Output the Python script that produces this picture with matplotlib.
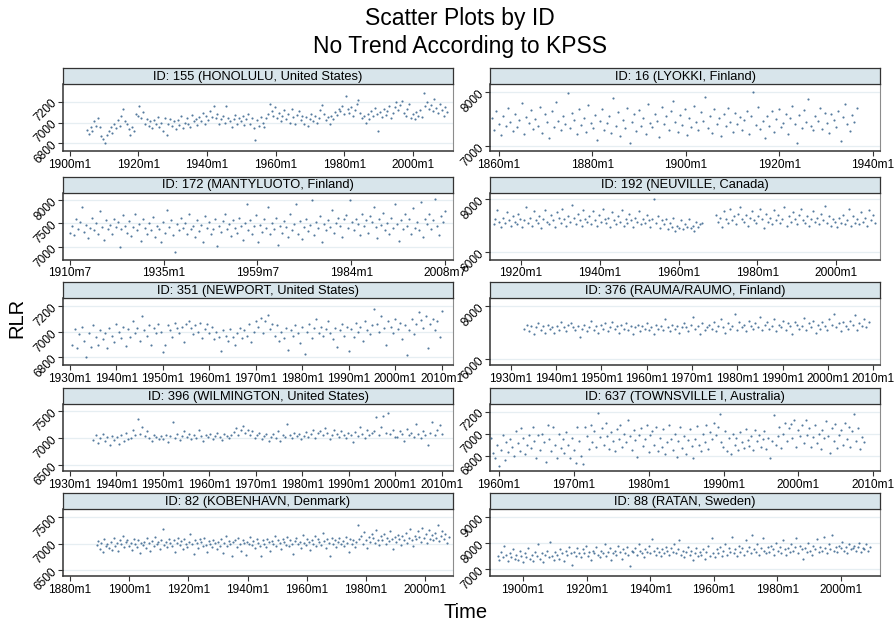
import numpy as np
import matplotlib
matplotlib.use("Agg")
import matplotlib.pyplot as plt

plt.rcParams['font.family'] = ['Liberation Sans', 'DejaVu Sans']

# monthly RLR sea level readings (sampled), one list per station
rlr_155 = [6930, 6890, 6960, 6920, 7010, 6970, 7040, 6960, 6870, 6840,
           6800, 6880, 6920, 6960, 6900, 6990, 6950, 7020, 6970, 7060,
           7130, 7010, 6990, 6940, 6880, 6960, 6920, 7080, 7060, 7160,
           7040, 7100, 6990, 7030, 6970, 7010, 6950, 7020, 6990, 7050,
           6960, 7000, 6920, 7040, 6880, 6990, 7030, 6970, 7010, 6940,
           7020, 6980, 7060, 6950, 7000, 7040, 6990, 6960, 7070, 7010,
           7030, 6980, 7050, 7010, 7090, 6990, 7060, 7020, 7110, 7050,
           7160, 7040, 7080, 6990, 7030, 7060, 7000, 7160, 7040, 7010,
           6960, 7030, 7070, 6990, 7040, 7010, 7060, 6980, 7030, 7080,
           6990, 7040, 6950, 6830, 7020, 6970, 7050, 7000, 6960, 7040,
           7080, 7180, 7110, 7060, 7150, 7040, 7090, 7010, 7060, 7120,
           7030, 7080, 7000, 7130, 7050, 6990, 7070, 7110, 7020, 7060,
           6990, 7050, 6970, 7030, 7080, 7010, 7060, 7000, 7040, 7120,
           7170, 7080, 7020, 7050, 6990, 7060, 7030, 7100, 7070, 7130,
           7110, 7160, 7080, 7250, 7130, 7090, 7150, 7060, 7120, 7180,
           7220, 7090, 7040, 7060, 7000, 7080, 7030, 7110, 7060, 7140,
           7080, 6920, 7100, 7050, 7130, 7070, 7110, 7160, 7040, 7090,
           7150, 7200, 7120, 7170, 7210, 7090, 7060, 7130, 7180, 7040,
           7080, 7030, 7100, 7060, 7120, 7050, 7280, 7160, 7200, 7130,
           7170, 7110, 7230, 7140, 7090, 7180, 7120, 7060, 7150, 7100]

rlr_16 = [7520, 7300, 7650, 7410, 7200, 7560, 7380, 7700, 7450, 7280,
          7600, 7350, 7480, 7790, 7230, 7540, 7420, 7660, 7310, 7500,
          7380, 7720, 7250, 7590, 7450, 7150, 7640, 7360, 7820, 7470,
          7290, 7550, 7400, 7970, 7330, 7610, 7480, 7220, 7680, 7390,
          7510, 7270, 7750, 7430, 7340, 7580, 7120, 7460, 7690, 7300,
          7420, 7560, 7250, 7880, 7370, 7620, 7190, 7490, 7330, 7710,
          7060, 7450, 7590, 7280, 7660, 7380, 7510, 7230, 7780, 7420,
          7350, 7600, 7470, 7170, 7720, 7400, 7550, 7290, 7640, 7830,
          7450, 7260, 7580, 7390, 7680, 7210, 7510, 7360, 7740, 7440,
          7300, 7620, 7470, 7900, 7330, 7560, 7250, 7680, 7410, 7520,
          7180, 7590, 7370, 7700, 7450, 7260, 7610, 7400, 7530, 7300,
          7480, 7650, 7220, 7560, 7990, 7390, 7720, 7310, 7470, 7150,
          7560, 7380, 7640, 7270, 7500, 7690, 7350, 7430, 7600, 7230,
          7520, 7740, 7410, 7060, 7580, 7330, 7660, 7450, 7870, 7380,
          7290, 7550, 7470, 7700, 7320, 7610, 7420, 7250, 7590, 7480,
          7360, 7640, 7100, 7530, 7770, 7410, 7280, 7580, 7450, 7700]

rlr_172 = [7300, 7450, 7250, 7580, 7380, 7520, 7850, 7320, 7460, 7190,
           7400, 7620, 7350, 7500, 7280, 7750, 7420, 7150, 7560, 7380,
           7470, 7260, 7600, 7410, 7520, 7000, 7380, 7680, 7450, 7300,
           7550, 7230, 7420, 7700, 7360, 7490, 7120, 7580, 7400, 7270,
           7510, 7350, 7640, 7200, 7440, 7380, 7090, 7520, 7300, 7780,
           7420, 7560, 7250, 6880, 7480, 7350, 7620, 7400, 7510, 7280,
           7700, 7380, 7450, 7200, 7560, 7330, 7470, 7100, 7650, 7400,
           7520, 7270, 7380, 7600, 7020, 7450, 7310, 7540, 7700, 7380,
           7480, 7220, 7560, 7400, 7300, 7620, 7450, 7150, 7500, 7900,
           7350, 7560, 7280, 7440, 7680, 7100, 7470, 7320, 7580, 7400,
           7850, 7260, 7500, 7380, 7620, 7040, 7450, 7300, 7540, 7420,
           7200, 7700, 7350, 7480, 7900, 7280, 7550, 7160, 7420, 7600,
           7330, 7470, 8000, 7250, 7520, 7400, 7650, 7100, 7480, 7350,
           7560, 7420, 7780, 7300, 7500, 7620, 7450, 7200, 7580, 7680,
           7400, 8000, 7520, 7350, 7600, 7480, 7250, 7700, 7450, 7560,
           7300, 7650, 7520, 7850, 7420, 7180, 7580, 7460, 7720, 7350,
           7500, 7260, 7620, 7400, 7900, 7480, 7130, 7560, 7380, 7700,
           7450, 7580, 7280, 7820, 7400, 7520, 7350, 7950, 7200, 7600,
           7480, 7700, 7380, 7560, 8020, 7450, 7250, 7650, 7520, 7750]

rlr_192a = [7050, 7250, 7600, 7150, 6950, 7300, 7100, 7500, 7200, 7000,
            7350, 7150, 7050, 7450, 7250, 6950, 7200, 7700, 7100, 7300,
            7000, 7550, 7200, 7100, 7350, 6900, 7250, 7600, 7150, 7050,
            7400, 7200, 6950, 7500, 7300, 7100, 7650, 7250, 7000, 7350,
            7150, 7800, 7300, 7050, 7450, 7200, 7000, 7600, 7250, 7150,
            7350, 7050, 7550, 7200, 7000, 7400, 7150, 7650, 7250, 7100,
            7300, 6950, 7500, 7200, 7050, 7350, 7150, 7600, 7000, 7250,
            7100, 7450, 7200, 6950, 7300, 7150, 7550, 7050, 7250, 7100,
            7400, 7200, 6950, 7250, 8000, 7100, 7350, 6900, 7200, 7050,
            7250, 6850, 7100, 6950, 7300, 6800, 7000, 6900, 7200, 6850,
            7050, 6950, 7250, 6900, 7000, 6800, 7150, 6950, 7050, 7100]
rlr_192b = [7400, 7150, 7300, 6950, 7550, 7250, 7100, 7650, 7200, 7350,
            7050, 7450, 7700, 7250, 7150, 7400, 7000, 7300, 7550, 7200,
            7100, 7350, 7650, 7250, 6900, 7450, 7150, 7300, 7050, 7600,
            7200, 7400, 7100, 7250, 7700, 7000, 7350, 7150, 7500, 7250,
            7050, 7400, 7650, 7200, 7100, 7350, 7000, 7250, 7550, 7150,
            7300, 7050, 7450, 7200, 7750, 7100, 7350, 7000, 7250, 7150,
            6950, 7300, 7100, 7400, 7050, 7200, 7650, 7000, 7350, 7100,
            7250, 7050, 7500, 7150, 7300, 7000, 7600, 7200, 7400, 7100]

rlr_351 = [6900, 7020, 6870, 6980, 7040, 6930, 6800, 6990, 6880, 7050,
           6960, 6900, 7010, 6940, 6990, 6870, 7030, 6970, 6920, 7060,
           7000, 6950, 7040, 6890, 7020, 6960, 7080, 6990, 7030, 6930,
           7120, 7010, 6970, 7050, 6900, 7030, 6990, 7060, 7000, 6840,
           6900, 7050, 7010, 6960, 7070, 7030, 6990, 7040, 6920, 7060,
           7080, 7030, 6980, 7050, 7000, 7070, 6950, 7020, 7060, 6990,
           7040, 6940, 7000, 6960, 6850, 7010, 6970, 6930, 7020, 6960,
           6900, 6990, 7030, 6950, 7010, 6970, 7060, 6920, 7000, 7080,
           7040, 7110, 6990, 7080, 7130, 7020, 7060, 6970, 7050, 6930,
           7000, 6950, 7030, 6860, 7010, 6970, 7050, 6990, 6910, 7040,
           6830, 7000, 7060, 6950, 7030, 7100, 6990, 7040, 6970, 7020,
           7080, 6990, 6940, 7030, 6880, 7010, 7060, 6970, 7040, 6850,
           7020, 6960, 7070, 7000, 7040, 6930, 7080, 7010, 6980, 7050,
           7180, 7060, 7000, 7120, 7030, 6900, 7080, 7040, 6990, 7100,
           7020, 7070, 6940, 7050, 6820, 7010, 7100, 6980, 7060, 7150,
           7090, 7030, 7120, 6870, 7060, 7100, 7010, 7080, 6960, 7160]

rlr_376 = [7150, 7300, 7050, 7250, 6950, 7200, 7350, 7100, 7250, 7000,
           7300, 7150, 7200, 6980, 7250, 7100, 7400, 7200, 7050, 7300,
           7350, 7200, 7100, 7250, 6850, 7150, 7300, 7050, 7200, 7450,
           7100, 7250, 7000, 7300, 7150, 7350, 7050, 7200, 7400, 7150,
           7250, 7000, 7300, 7150, 7350, 7100, 7250, 6950, 7200, 7300,
           7050, 7250, 7150, 7350, 7100, 7200, 6950, 7300, 7150, 7250,
           7100, 7500, 7200, 7050, 7300, 7150, 7250, 7000, 7200, 7350,
           7200, 7050, 7300, 7600, 7150, 7250, 6950, 7350, 7100, 7200,
           7300, 7150, 7400, 7050, 7250, 7500, 7200, 7000, 7350, 7150,
           7250, 7700, 7100, 7400, 7200, 7300, 7050, 7450, 7250, 7150,
           7350, 7200, 7600, 7100, 7300, 7400, 7150, 7250, 7500, 7050,
           7300, 7200, 7450, 7100, 7350, 7250, 6950, 7400, 7300, 7150,
           7250, 7550, 7100, 7350, 7200, 7450, 7000, 7300, 7150, 7400,
           7250, 7100, 7500, 7300, 7700, 7200, 7350, 7050, 7400, 7250,
           7150, 7450, 7300, 7650, 7100, 7350, 7250, 7500, 7200, 7400]

rlr_396 = [6960, 7050, 6900, 7000, 7080, 6950, 7020, 6880, 7040, 6970,
           7010, 6890, 7060, 6940, 7100, 6990, 7000, 7150, 7050, 7350,
           7080, 7200, 7030, 7120, 7000, 6950, 7060, 7010, 6980, 7040,
           6990, 7050, 6920, 7030, 7300, 7000, 7080, 6970, 7040, 7120,
           7020, 7070, 6990, 7050, 7000, 7150, 7030, 6950, 7060, 7010,
           7080, 6980, 7040, 7100, 7020, 6960, 7070, 7030, 7000, 7050,
           7110, 7180, 7060, 7140, 7220, 7090, 7150, 7050, 7120, 7000,
           7060, 7100, 6990, 7040, 7080, 6950, 7020, 7070, 7000, 7130,
           6940, 7050, 7010, 7260, 7060, 7000, 7100, 7030, 7080, 6980,
           7040, 7110, 7020, 7070, 7150, 7000, 7090, 7130, 7060, 7180,
           7100, 6990, 7050, 7140, 7080, 7020, 7120, 7060, 7000, 7090,
           7060, 6920, 7110, 7040, 7200, 7080, 7000, 7150, 7050, 7100,
           7130, 7380, 7050, 7200, 7400, 7100, 7450, 7080, 7150, 7010,
           7020, 7120, 7070, 6940, 7160, 7050, 7100, 7020, 7250, 7080,
           7000, 7130, 7060, 6880, 7100, 7300, 7050, 7150, 7240, 7080]

rlr_637 = [6960, 6820, 6780, 6900, 6700, 6850, 6990, 6760, 6920, 6830,
           6950, 6880, 6800, 7020, 6910, 6840, 7050, 6960, 6810, 6900,
           6990, 6870, 7060, 6930, 6780, 6990, 6850, 7000, 6920, 6740,
           7080, 6950, 6840, 7060, 6900, 6780, 7000, 6870, 6950, 6820,
           7010, 6900, 6780, 6960, 6850, 6730, 7060, 6930, 6800, 6720,
           7060, 6980, 6860, 7080, 6920, 7020, 6880, 7190, 6970, 7050,
           6900, 7100, 6980, 6860, 7010, 6930, 6840, 7040, 6950, 7080,
           6880, 7000, 6920, 7120, 6980, 6850, 7030, 6940, 6790, 6990,
           7050, 6890, 6950, 7080, 6830, 6990, 7020, 6900, 7060, 6840,
           6960, 6880, 7040, 6810, 6920, 7080, 6950, 6850, 7000, 6790,
           6930, 7060, 6870, 6980, 6810, 6940, 7040, 6890, 6780, 6950,
           7070, 6900, 6840, 7000, 6920, 7080, 6860, 7010, 6950, 7100,
           6990, 7060, 7180, 6920, 6880, 7020, 6840, 6960, 6810, 7000,
           6900, 6960, 6850, 7010, 6920, 6870, 7040, 6940, 6890, 6980,
           6850, 7030, 6930, 6990, 6880, 6950, 7020, 6860, 6960, 6780,
           6930, 7170, 6900, 6980, 7060, 6870, 7000, 7100, 6930, 7050,
           7090, 6960, 7120, 6880, 7030, 6980, 7080, 6910, 7120, 6990,
           7050, 6880, 6970, 7080, 6910, 7000, 6860, 7030, 6960, 7110,
           6980, 6820, 7050, 6930, 7090, 6870, 6990, 7030, 6900, 7100,
           6950, 7060, 6880, 7020, 7180, 6930, 7050, 6860, 6970, 6920]

rlr_82 = [6980, 7050, 6900, 7020, 6850, 7080, 6960, 7000, 6920, 7040,
          6880, 7100, 6950, 7010, 6870, 7060, 6990, 7150, 6930, 7030,
          7070, 6960, 7020, 6880, 7090, 7000, 6940, 7060, 6820, 7020,
          6980, 7040, 6920, 7100, 7010, 6870, 7050, 6960, 7130, 6990,
          7030, 6900, 7070, 7280, 6980, 7040, 6930, 7090, 7010, 6950,
          7060, 6840, 7020, 7110, 6970, 7050, 6900, 7080, 7000, 6940,
          7040, 7180, 6990, 6800, 7060, 7010, 6920, 7080, 7030, 6960,
          7100, 6980, 6850, 7050, 7000, 6930, 7070, 7020, 6890, 7040,
          6960, 7080, 6820, 7010, 7140, 6950, 7050, 6990, 6760, 7030,
          7070, 6940, 7100, 7000, 6870, 7060, 7010, 6780, 7040, 6990,
          7120, 6980, 7050, 6910, 7080, 7020, 6960, 6760, 7060, 7000,
          6940, 7090, 7030, 6870, 7050, 7000, 7150, 6960, 7070, 7010,
          6900, 7080, 7040, 6980, 7120, 6950, 7060, 7000, 6800, 7050,
          7100, 6990, 7040, 6920, 7160, 7020, 6970, 7080, 7030, 6880,
          7060, 7000, 7140, 6950, 7090, 7030, 6980, 7200, 7050, 6910,
          7080, 7020, 6760, 7100, 6990, 7060, 6930, 7040, 7110, 7000,
          7050, 6960, 7120, 7020, 6850, 7080, 7000, 7060, 6940, 7030,
          7350, 7080, 7150, 7000, 7220, 7060, 6920, 7130, 7040, 7180,
          7100, 7020, 7250, 7070, 6980, 7140, 7060, 7190, 7000, 7110,
          7050, 7230, 7080, 6900, 7120, 7040, 7170, 7090, 6980, 7140,
          7060, 7200, 7010, 7110, 7280, 7070, 6950, 7150, 7090, 7230,
          7120, 7040, 7300, 7100, 7180, 7020, 7250, 7080, 7160, 7060,
          7200, 7110, 7350, 7050, 7150, 7240, 7090, 7180, 7010, 7130]

rlr_88 = [7500, 7350, 7650, 7450, 7900, 7550, 7300, 7600, 7450, 7750,
          7400, 7550, 7350, 7700, 7500, 7250, 7600, 7450, 7800, 7400,
          7550, 7300, 7650, 7500, 7950, 7400, 7600, 7250, 7550, 7700,
          7450, 8050, 7500, 7350, 7650, 7550, 7400, 7750, 7600, 7300,
          7700, 7550, 7850, 7600, 7150, 7650, 7500, 7800, 7600, 7450,
          7750, 7600, 7900, 7500, 7650, 7350, 7700, 7600, 7850, 7550,
          7450, 7700, 7600, 7950, 7500, 7650, 7800, 7350, 7600, 7700,
          7550, 7900, 7650, 7400, 7750, 7600, 7850, 7550, 7100, 7700,
          7650, 7800, 7550, 7950, 7700, 7600, 7450, 7750, 7650, 7900,
          7600, 8150, 7700, 7550, 7800, 7650, 7500, 7750, 7600, 7850,
          7700, 7550, 7800, 7650, 7950, 7600, 7750, 8100, 7550, 7700,
          7450, 7650, 7850, 7550, 7700, 7350, 7600, 7800, 7500, 7650,
          7550, 7750, 7400, 7650, 7900, 7500, 8200, 7600, 7450, 7750,
          7600, 7850, 7500, 7700, 7950, 7550, 7800, 7650, 8250, 7600,
          7750, 7500, 7900, 7650, 7800, 7550, 8100, 7700, 7850, 7600,
          8300, 7750, 7650, 7950, 7550, 7800, 8200, 7700, 7600, 7850,
          7650, 7900, 7750, 7550, 8000, 7700, 7850, 7600, 8100, 7750,
          7550, 7800, 7650, 7950, 7700, 7850, 8200, 7600, 7900, 7750,
          7400, 7800, 7650, 8000, 7700, 7550, 7900, 7750, 8150, 7650,
          7850, 7700, 8250, 7800, 7600, 7950, 7750, 8300, 7700, 7850,
          7650, 7900, 7800, 8050, 7700, 7850, 7600, 7950, 7750, 7800,
          7900, 7700, 7850, 8000, 7650, 7800, 7750, 7950, 7700, 7850]

# (title, [(first month, last month, values)], x tick labels, y ticks)
panels = [
    ("ID: 155 (HONOLULU, United States)", [(1905.0, 2010.0, rlr_155)],
     ["1900m1", "1920m1", "1940m1", "1960m1", "1980m1", "2000m1"], [6800, 7000, 7200]),
    ("ID: 16 (LYOKKI, Finland)", [(1858.5, 1936.5, rlr_16)],
     ["1860m1", "1880m1", "1900m1", "1920m1", "1940m1"], [7000, 8000]),
    ("ID: 172 (MANTYLUOTO, Finland)", [(1910.5, 2008.5, rlr_172)],
     ["1910m7", "1935m1", "1959m7", "1984m1", "2008m7"], [7000, 7500, 8000]),
    ("ID: 192 (NEUVILLE, Canada)", [(1913.0, 1966.0, rlr_192a), (1969.5, 2010.0, rlr_192b)],
     ["1920m1", "1940m1", "1960m1", "1980m1", "2000m1"], [6000, 8000]),
    ("ID: 351 (NEWPORT, United States)", [(1930.5, 2010.0, rlr_351)],
     ["1930m1", "1940m1", "1950m1", "1960m1", "1970m1", "1980m1", "1990m1", "2000m1", "2010m1"],
     [6800, 7000, 7200]),
    ("ID: 376 (RAUMA/RAUMO, Finland)", [(1933.0, 2009.0, rlr_376)],
     ["1930m1", "1940m1", "1950m1", "1960m1", "1970m1", "1980m1", "1990m1", "2000m1", "2010m1"],
     [6000, 8000]),
    ("ID: 396 (WILMINGTON, United States)", [(1935.0, 2010.0, rlr_396)],
     ["1930m1", "1940m1", "1950m1", "1960m1", "1970m1", "1980m1", "1990m1", "2000m1", "2010m1"],
     [6500, 7000, 7500]),
    ("ID: 637 (TOWNSVILLE I, Australia)", [(1959.0, 2008.7, rlr_637)],
     ["1960m1", "1970m1", "1980m1", "1990m1", "2000m1", "2010m1"], [6800, 7000, 7200]),
    ("ID: 82 (KOBENHAVN, Denmark)", [(1889.0, 2008.0, rlr_82)],
     ["1880m1", "1900m1", "1920m1", "1940m1", "1960m1", "1980m1", "2000m1"], [6500, 7000, 7500]),
    ("ID: 88 (RATAN, Sweden)", [(1892.0, 2009.0, rlr_88)],
     ["1900m1", "1920m1", "1940m1", "1960m1", "1980m1", "2000m1"], [7000, 8000, 9000]),
]

# axis extents per panel (layout)
xlims = [(1898.0, 2011.7), (1858.1, 1941.5), (1908.7, 2010.6), (1912.1, 2011.2),
         (1928.5, 2012.4), (1925.4, 2011.5), (1928.5, 2012.4), (1958.8, 2010.9),
         (1877.6, 2009.5), (1889.6, 2012.3)]
ylims = [(6727, 7369), (6913, 8142), (6728, 8153), (5700, 8264), (6741, 7262),
         (5786, 8300), (6395, 7623), (6659, 7269), (6389, 7654), (6727, 9311)]

W, H = 896, 625
fig = plt.figure(figsize=(W / 100, H / 100), dpi=100)
col_x = [(63, 453), (490, 880)]
row_top = [68, 176.5, 282, 388, 493]
strip_h, ax_h = 16, 67
dot_color = '#2b5a86'


def month_pos(lbl):
    y, m = lbl.split('m')
    return int(y) + (int(m) - 1) / 12.0


for i, (title, segs, xlabs, yticks) in enumerate(panels):
    r, c = divmod(i, 2)
    x0, x1 = col_x[c]
    top = row_top[r]
    ax = fig.add_axes([x0 / W, 1 - (top + strip_h + ax_h) / H, (x1 - x0) / W, ax_h / H])
    for start, end, vals in segs:
        t = np.linspace(start, end, len(vals))
        ax.scatter(t, vals, s=2.4, color=dot_color, linewidths=0, alpha=0.8, zorder=3)
    ax.set_xlim(*xlims[i])
    ax.set_ylim(*ylims[i])
    ax.set_xticks([month_pos(l) for l in xlabs])
    ax.set_xticklabels(xlabs, fontsize=8.6)
    ax.set_yticks(yticks)
    ax.set_yticklabels([str(v) for v in yticks], fontsize=8.6, rotation=45,
                       ha='right', va='center', rotation_mode='anchor')
    ax.grid(axis='y', color='#e6eef2', lw=0.9, zorder=0)
    ax.tick_params(length=3.5, width=0.8, color='#333333', pad=2)
    for s in ['left', 'bottom']:
        ax.spines[s].set_color('#333333')
        ax.spines[s].set_linewidth(1.1)
    for s in ['right', 'top']:
        ax.spines[s].set_color('#8c8c8c')
        ax.spines[s].set_linewidth(0.8)

    sax = fig.add_axes([x0 / W, 1 - (top + strip_h) / H, (x1 - x0) / W, strip_h / H])
    sax.set_facecolor('#d8e5eb')
    sax.set_xticks([])
    sax.set_yticks([])
    for s in sax.spines.values():
        s.set_color('#333333')
        s.set_linewidth(0.9)
    sax.text(0.5, 0.45, title, ha='center', va='center', fontsize=9.3, transform=sax.transAxes)

fig.text(460 / W, 1 - 19 / H, "Scatter Plots by ID", ha='center', va='center', fontsize=16.5)
fig.text(460 / W, 1 - 47 / H, "No Trend According to KPSS", ha='center', va='center', fontsize=16.5)
fig.text(17 / W, 1 - 318 / H, "RLR", ha='center', va='center', rotation=90, fontsize=14.5)
fig.text(466 / W, 1 - 612 / H, "Time", ha='center', va='center', fontsize=14.5)

plt.savefig("out.png", dpi=100)
